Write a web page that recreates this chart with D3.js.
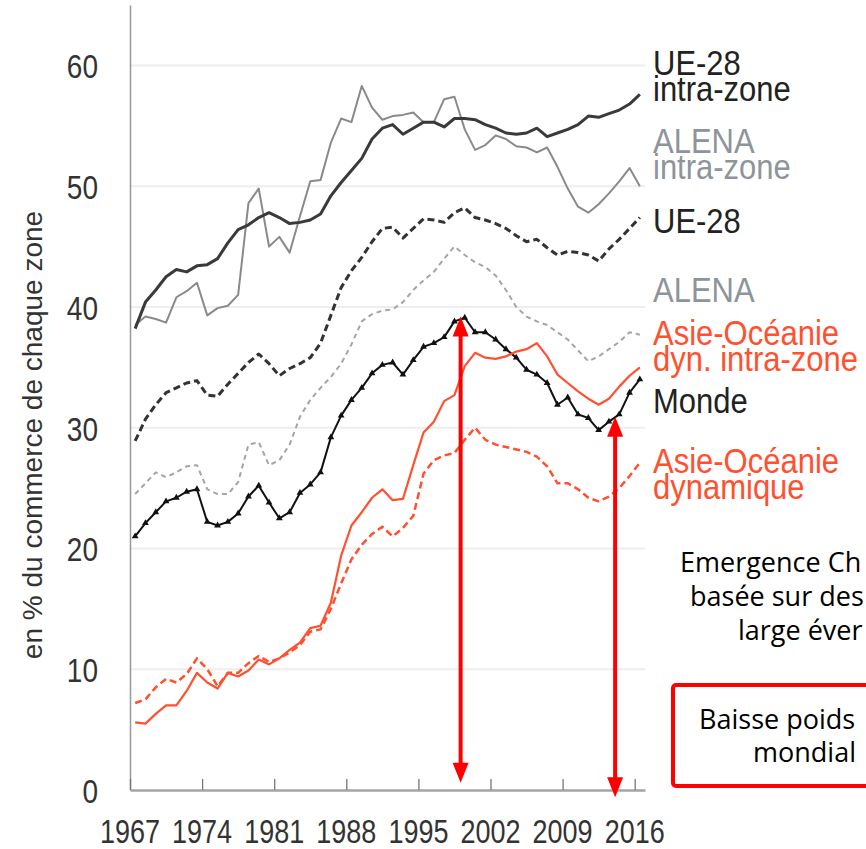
<!DOCTYPE html>
<html>
<head>
<meta charset="utf-8">
<script src="https://cdn.jsdelivr.net/npm/d3@7"></script>
<style>
  body { margin: 0; background: #fff; }
  svg { display: block; }
</style>
</head>
<body>
<div id="chart"></div>
<script>
// years 1967 - 2016, one value per year
const years = d3.range(1967, 2017);

const ueIntra = [38.2, 40.4, 41.4, 42.5, 43.1, 42.9, 43.4, 43.5, 44.0, 45.3,
  46.4, 46.8, 47.4, 47.8, 47.4, 46.9, 47.0, 47.2, 47.7, 49.2,
  50.3, 51.3, 52.3, 53.9, 54.8, 55.1, 54.3, 54.8, 55.3, 55.3,
  54.9, 55.6, 55.6, 55.5, 55.1, 54.8, 54.4, 54.3, 54.4, 54.8,
  54.1, 54.4, 54.7, 55.1, 55.8, 55.7, 56.0, 56.3, 56.8, 57.6];

const alenaIntra = [38.5, 39.2, 39.0, 38.7, 40.8, 41.3, 42.0, 39.3, 39.9, 40.1,
  41.0, 48.6, 49.8, 45.0, 45.8, 44.5, 47.5, 50.4, 50.5, 53.6,
  55.6, 55.3, 58.3, 56.5, 55.5, 55.8, 55.9, 56.1, 55.3, 55.3,
  57.2, 57.4, 54.7, 53.0, 53.4, 54.2, 53.9, 53.3, 53.2, 52.8,
  53.2, 51.6, 49.8, 48.3, 47.8, 48.5, 49.4, 50.4, 51.5, 50.0];

const ue28 = [28.9, 30.7, 31.9, 32.9, 33.3, 33.7, 33.9, 32.7, 32.6, 33.6,
  34.5, 35.4, 36.1, 35.3, 34.3, 34.9, 35.3, 35.8, 37.0, 39.3,
  41.6, 43.0, 44.1, 45.4, 46.5, 46.6, 45.7, 46.5, 47.3, 47.2,
  47.0, 47.8, 48.2, 47.4, 47.2, 46.9, 46.5, 45.9, 45.4, 45.6,
  44.9, 44.3, 44.6, 44.5, 44.3, 43.8, 44.8, 45.6, 46.5, 47.4];

const alena = [24.5, 25.4, 26.3, 25.9, 26.3, 26.8, 26.9, 24.9, 24.5, 24.5,
  25.5, 28.6, 28.8, 26.9, 27.3, 28.6, 30.9, 32.3, 33.3, 34.2,
  35.3, 36.9, 38.8, 39.4, 39.7, 39.8, 40.4, 41.4, 42.2, 42.9,
  44.0, 45.0, 44.3, 43.7, 43.3, 42.6, 41.4, 40.0, 39.2, 38.8,
  38.5, 37.9, 37.3, 36.4, 35.5, 35.9, 36.5, 37.1, 37.9, 37.7];

const monde = [21.0, 22.1, 23.0, 23.9, 24.2, 24.7, 24.9, 22.2, 21.9, 22.2,
  22.9, 24.3, 25.2, 23.8, 22.5, 23.0, 24.6, 25.3, 26.3, 29.2,
  31.0, 32.3, 33.3, 34.5, 35.2, 35.4, 34.4, 35.6, 36.7, 37.0,
  37.5, 38.8, 39.1, 37.9, 37.9, 37.3, 36.5, 35.8, 34.8, 34.4,
  33.7, 31.9, 32.5, 31.1, 30.8, 29.8, 30.5, 31.1, 32.9, 34.0];

const asieIntra = [5.6, 5.5, 6.3, 7.0, 7.0, 8.2, 9.7, 8.9, 8.4, 9.7,
  9.4, 9.9, 10.8, 10.4, 10.9, 11.6, 12.2, 13.4, 13.6, 15.5,
  19.4, 21.9, 23.0, 24.2, 24.9, 24.0, 24.1, 26.9, 29.6, 30.5,
  32.2, 32.7, 35.1, 36.2, 35.8, 35.7, 35.9, 36.3, 36.5, 37.0,
  35.9, 34.4, 33.7, 33.0, 32.4, 31.9, 32.4, 33.4, 34.3, 35.0];

const asieDyn = [7.2, 7.5, 8.5, 9.2, 8.9, 9.6, 10.9, 10.0, 8.6, 9.7,
  9.7, 10.5, 11.1, 10.6, 10.9, 11.4, 12.0, 13.1, 13.3, 15.0,
  17.1, 19.1, 20.3, 21.2, 21.8, 21.0, 21.7, 22.7, 26.2, 27.3,
  27.7, 27.9, 29.0, 30.0, 29.0, 28.6, 28.4, 28.2, 28.0, 27.6,
  26.8, 25.4, 25.4, 24.9, 24.2, 23.9, 24.3, 25.0, 26.0, 27.1];

const xTicks = [1967, 1974, 1981, 1988, 1995, 2002, 2009, 2016];
const yTicks = [0, 10, 20, 30, 40, 50, 60];

// red arrows: year, top value, bottom value
const arrowYears = [1999.1, 2014.1];
const arrowTops = [39.2, 30.9];
const arrowBottoms = [0.6, -0.6];

const width = 866, height = 849;
const red = "#ff5030";
const grayTxt = "#8e949b";

const svg = d3.select("#chart")
  .append("svg")
  .attr("width", width)
  .attr("height", height)
  .style("font-family", "'Liberation Sans', Arial, sans-serif");

const x = d3.scaleLinear().domain([1967, 2017]).range([130, 645]);
const y = d3.scaleLinear().domain([0, 65]).range([790, 5]);

// gridlines
svg.append("g")
  .selectAll("line")
  .data(yTicks.filter(d => d > 0))
  .join("line")
  .attr("x1", 130).attr("x2", 645)
  .attr("y1", d => y(d)).attr("y2", d => y(d))
  .attr("stroke", "#eeeeee")
  .attr("stroke-width", 2);

// y axis
const yAxis = svg.append("g")
  .attr("transform", "translate(130,0)")
  .call(d3.axisLeft(y).tickValues(yTicks).tickSize(0).tickFormat(""));
yAxis.select(".domain").attr("stroke", "#999").attr("stroke-width", 1.5);

svg.append("g")
  .selectAll("text")
  .data(yTicks)
  .join("text")
  .attr("transform", d => `translate(98,${y(d) + 13}) scale(1,1.2)`)
  .attr("text-anchor", "end")
  .attr("font-size", 28)
  .attr("fill", "#333")
  .text(d => d);

// x axis
const xAxis = svg.append("g")
  .attr("transform", "translate(0,790)")
  .call(d3.axisBottom(x).tickValues(xTicks).tickSize(-11).tickFormat("").tickSizeOuter(0));
xAxis.select(".domain").attr("stroke", "#a5a5a5").attr("stroke-width", 2.5);
xAxis.selectAll(".tick line").attr("stroke", "#777").attr("stroke-width", 1.3);

svg.append("g")
  .selectAll("text")
  .data(xTicks)
  .join("text")
  .attr("transform", d => `translate(${x(d)},843) scale(1,1.2)`)
  .attr("text-anchor", "middle")
  .attr("font-size", 27)
  .attr("fill", "#333")
  .text(d => d);

// y axis title
svg.append("text")
  .attr("transform", "translate(42,435) rotate(-90)")
  .attr("text-anchor", "middle")
  .attr("font-size", 28)
  .attr("fill", "#333")
  .text("en % du commerce de chaque zone");

// lines
const line = d3.line()
  .x((d, i) => x(years[i] + 0.5))
  .y(d => y(d));

const series = [
  { values: alena, color: "#a5a5a5", w: 2, dash: "5,4" },
  { values: alenaIntra, color: "#8a8a8a", w: 2, dash: null },
  { values: ue28, color: "#333", w: 3, dash: "7,4" },
  { values: ueIntra, color: "#3a3a3a", w: 3, dash: null },
  { values: monde, color: "#111", w: 2, dash: null },
  { values: asieDyn, color: red, w: 2.5, dash: "7,4" },
  { values: asieIntra, color: red, w: 2.2, dash: null }
];

svg.append("g")
  .selectAll("path")
  .data(series)
  .join("path")
  .attr("fill", "none")
  .attr("stroke", d => d.color)
  .attr("stroke-width", d => d.w)
  .attr("stroke-dasharray", d => d.dash)
  .attr("stroke-linejoin", "round")
  .attr("d", d => line(d.values));

// Monde markers
svg.append("g")
  .selectAll("path")
  .data(monde)
  .join("path")
  .attr("transform", (d, i) => `translate(${x(years[i] + 0.5)},${y(d)})`)
  .attr("d", d3.symbol(d3.symbolTriangle, 20))
  .attr("fill", "#111");

// series labels (one text per label, lines as tspans)
const labels = [
  { lines: ["UE-28", "intra-zone"], color: "#222", y: 75 },
  { lines: ["ALENA", "intra-zone"], color: grayTxt, y: 153 },
  { lines: ["UE-28"], color: "#222", y: 233 },
  { lines: ["ALENA"], color: grayTxt, y: 302 },
  { lines: ["Asie-Océanie", "dyn. intra-zone"], color: red, y: 345 },
  { lines: ["Monde"], color: "#222", y: 413 },
  { lines: ["Asie-Océanie", "dynamique"], color: red, y: 473 }
];

const labelScale = 1.15;
svg.append("g")
  .selectAll("text")
  .data(labels)
  .join("text")
  .attr("transform", d => `translate(653,${d.y}) scale(1,${labelScale})`)
  .attr("font-size", 31)
  .attr("fill", d => d.color)
  .selectAll("tspan")
  .data(d => d.lines)
  .join("tspan")
  .attr("x", 0)
  .attr("y", (d, i) => i * 25.5 / labelScale)
  .text(d => d);

// red arrows
const arrows = svg.append("g");
arrowYears.forEach((yr, i) => {
  const ax = x(yr), top = y(arrowTops[i]), bot = y(arrowBottoms[i]);
  arrows.append("line")
    .attr("x1", ax).attr("x2", ax)
    .attr("y1", top + 16).attr("y2", bot - 16)
    .attr("stroke", "#ff0000")
    .attr("stroke-width", 4);
  arrows.append("path")
    .attr("d", `M${ax},${top} L${ax - 8},${top + 20} L${ax + 8},${top + 20} Z`)
    .attr("fill", "#ff0000");
  arrows.append("path")
    .attr("d", `M${ax},${bot} L${ax - 8},${bot - 20} L${ax + 8},${bot - 20} Z`)
    .attr("fill", "#ff0000");
});

// annotation text and box on the right
const note = svg.append("g")
  .style("font-family", "'Open Sans', 'Noto Sans', sans-serif")
  .attr("font-size", 27)
  .attr("fill", "#000");

note.append("text").attr("x", 680).attr("y", 572).text("Emergence Ch");
note.append("text").attr("x", 690).attr("y", 606).text("basée sur des");
note.append("text").attr("x", 738).attr("y", 640).text("large éver");

svg.append("rect")
  .attr("x", 673).attr("y", 685)
  .attr("width", 220).attr("height", 101)
  .attr("rx", 3)
  .attr("fill", "none")
  .attr("stroke", "#ff0000")
  .attr("stroke-width", 4);

note.append("text").attr("x", 699).attr("y", 729).text("Baisse poids");
note.append("text").attr("x", 753).attr("y", 762).text("mondial");
</script>
</body>
</html>
